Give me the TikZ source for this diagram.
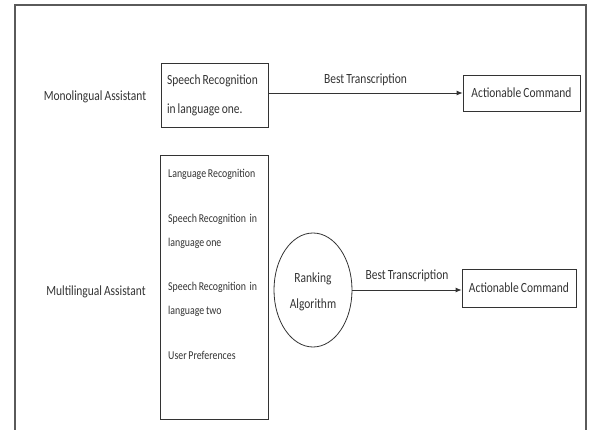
\documentclass[tikz,border=0pt]{standalone}
\usepackage{fontspec}
\setmainfont{Carlito}[FakeStretch=0.82,WordSpace=0.8]
\usepackage{tikz}
\usetikzlibrary{shapes.geometric,arrows.meta}
\definecolor{ink}{HTML}{333333}
\definecolor{framegray}{HTML}{5A5A5A}

\tikzset{
  box/.style={draw=ink, line width=0.8pt, text=ink},
  lbl/.style={text=ink, font=\fontsize{14}{16}\selectfont},
  item/.style={text=ink, anchor=west, align=left, inner sep=0pt,
               font=\fontsize{12}{24}\selectfont},
  flow/.style={draw=ink, line width=0.8pt, -{Latex[length=6pt,width=5pt]}}
}

\begin{document}
\begin{tikzpicture}[x=1pt,y=-1pt]
    \useasboundingbox (0,0) rectangle (590,430);
    % frame
    \draw[framegray, line width=1.5pt] (15,432) -- (15,5) -- (586,5) -- (586,432);

    % monolingual row
    \node[lbl] (mono) at (95,97) {Monolingual Assistant};
    \node[box, minimum width=107pt, minimum height=64pt, text width=95pt,
          inner xsep=6pt, align=flush left, font=\fontsize{14}{29}\selectfont]
          (srone) at (214.5,95) {Speech Recognition\\in language one.};
    \node[box, lbl, minimum width=117pt, minimum height=36pt] (cmdone) at (521.5,93) {Actionable Command};
    \draw[flow] (cmdone.west -| srone.east) -- (cmdone.west)
      node[lbl, midway, above=4pt] (bestone) {Best Transcription};

    % multilingual row
    \node[lbl] (multi) at (96,292) {Multilingual Assistant};
    \node[box, minimum width=108pt, minimum height=264pt] (modules) at (214,287) {};
    \node[item] (langrec) at (168,174) {Language Recognition};
    \node[item] (srlone) at (168,231) {Speech Recognition\ \ in\\language one};
    \node[item] (srltwo) at (168,299) {Speech Recognition\ \ in\\language two};
    \node[item] (userpref) at (168,355) {User Preferences};
    \node[box, ellipse, minimum width=78pt, minimum height=114pt, inner sep=0pt,
          font=\fontsize{14}{26}\selectfont] (rank) at (313,290)
          {\raisebox{8pt}{\begin{tabular}{@{}c@{}}Ranking\\Algorithm\end{tabular}}};
    \node[box, lbl, minimum width=114pt, minimum height=38pt] (cmdtwo) at (519,288) {Actionable Command};
    \draw[flow] (rank.east) -- (rank.east -| cmdtwo.west)
      node[lbl, midway, above=5pt] (besttwo) {Best Transcription};
\end{tikzpicture}
\end{document}
